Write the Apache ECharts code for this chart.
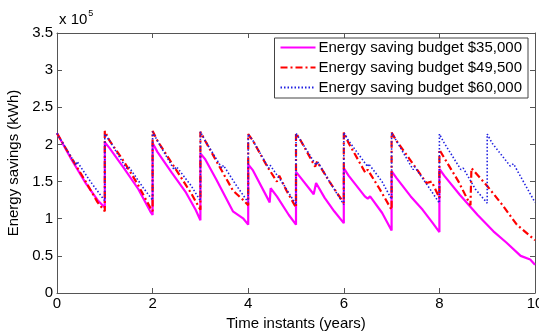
<!DOCTYPE html>
<html>
<head>
<meta charset="utf-8">
<script src="https://cdn.jsdelivr.net/npm/echarts@6/dist/echarts.min.js"></script>
<style>
  html, body { margin: 0; padding: 0; background: #fff; }
  #chart { width: 539px; height: 333px; }
</style>
</head>
<body>
<div id="chart"></div>
<script>
// values in units of 10^5 kWh, x in years
const budget35k = [
  [0, 2.15], [0.3, 1.8], [0.6, 1.48], [0.85, 1.25], [1, 1.15],
  [1, 2.03], [1.1, 1.95], [1.4, 1.68], [1.7, 1.4], [1.95, 1.1], [2, 1.05],
  [2, 2.02], [2.1, 1.9], [2.4, 1.62], [2.7, 1.35], [2.9, 1.12], [3, 0.98],
  [3, 1.88], [3.1, 1.8], [3.33, 1.53], [3.68, 1.1], [3.9, 1.0], [4, 0.92],
  [4, 1.73], [4.1, 1.65], [4.45, 1.22], [4.47, 1.41], [4.6, 1.3], [4.85, 1.05], [5, 0.92],
  [5, 1.63], [5.1, 1.55], [5.37, 1.33], [5.42, 1.48], [5.6, 1.28], [5.8, 1.1], [6, 0.94],
  [6, 1.68], [6.1, 1.58], [6.44, 1.3], [6.5, 1.27], [6.55, 1.3], [6.8, 1.08], [7, 0.84],
  [7, 1.64], [7.1, 1.55], [7.4, 1.3], [7.65, 1.12], [7.85, 0.95], [8, 0.82],
  [8, 1.67], [8.1, 1.58], [8.43, 1.32], [8.8, 1.05], [9.13, 0.83], [9.4, 0.68], [9.7, 0.5], [9.9, 0.45], [10, 0.38]
]
const budget49k = [
  [0, 2.15], [0.3, 1.82], [0.6, 1.5], [0.85, 1.22], [1, 1.1],
  [1, 2.18], [1.1, 2.05], [1.4, 1.77], [1.7, 1.45], [1.95, 1.15], [2, 1.1],
  [2, 2.18], [2.1, 2.05], [2.5, 1.65], [2.8, 1.35], [3, 1.12],
  [3, 2.17], [3.1, 2.05], [3.33, 1.78], [3.68, 1.38], [3.9, 1.25], [4, 1.18],
  [4, 2.14], [4.1, 2.05], [4.4, 1.7], [4.6, 1.5], [4.65, 1.58], [4.8, 1.38], [5, 1.15],
  [5, 2.15], [5.1, 2.05], [5.4, 1.7], [5.44, 1.77], [5.7, 1.5], [6, 1.21],
  [6, 2.16], [6.1, 2.02], [6.45, 1.62], [6.5, 1.66], [6.75, 1.4], [7, 1.12],
  [7, 2.16], [7.1, 2.05], [7.38, 1.8], [7.73, 1.48], [7.84, 1.5], [8, 1.28],
  [8, 1.93], [8.1, 1.82], [8.4, 1.5], [8.65, 1.18], [8.67, 1.68], [9, 1.44], [9.3, 1.2], [9.62, 0.92], [10, 0.71]
]
const budget60k = [
  [0, 2.15], [0.4, 1.72], [0.42, 1.77], [0.7, 1.5], [1, 1.24],
  [1, 2.14], [1.1, 2.05], [1.45, 1.68], [1.5, 1.7], [1.8, 1.42], [2, 1.25],
  [2, 2.17], [2.1, 2.05], [2.45, 1.66], [2.5, 1.7], [2.8, 1.45], [3, 1.24],
  [3, 2.17], [3.1, 2.05], [3.45, 1.68], [3.48, 1.72], [3.75, 1.45], [4, 1.22],
  [4, 2.14], [4.1, 2.05], [4.43, 1.68], [4.46, 1.72], [4.75, 1.45], [5, 1.19],
  [5, 2.15], [5.1, 2.05], [5.42, 1.72], [5.45, 1.77], [5.7, 1.5], [6, 1.19],
  [6, 2.16], [6.1, 2.05], [6.5, 1.7], [6.52, 1.74], [6.8, 1.5], [7, 1.26],
  [7, 2.16], [7.1, 2.05], [7.45, 1.66], [7.48, 1.7], [7.75, 1.45], [8, 1.21],
  [8, 2.14], [8.1, 2.02], [8.45, 1.66], [8.5, 1.68], [8.75, 1.4], [9, 1.21],
  [9, 2.14], [9.1, 2.02], [9.48, 1.71], [9.55, 1.74], [9.8, 1.45], [10, 1.22]
]
const seriesNames = ['Energy saving budget $35,000', 'Energy saving budget $49,500', 'Energy saving budget $60,000']
const yTicks = [0, 0.5, 1, 1.5, 2, 2.5, 3, 3.5]

const font = 'Liberation Sans, Arial, sans-serif'
const chart = echarts.init(document.getElementById('chart'))

const axisCommon = {
  axisLine: { show: true, onZero: false, lineStyle: { color: '#555', width: 1 } },
  axisTick: { show: true, inside: true, length: 5, lineStyle: { color: '#555' } },
  splitLine: { show: false }
}

chart.setOption({
  animation: false,
  textStyle: { fontFamily: font },
  grid: { left: 57, right: 4, top: 33, bottom: 40, containLabel: false, outerBoundsMode: 'none' },
  legend: {
    orient: 'vertical',
    right: 11,
    top: 38,
    itemWidth: 35,
    itemHeight: 16,
    itemGap: 5,
    padding: [2, 6, 3, 5],
    backgroundColor: '#fff',
    borderColor: '#444',
    borderWidth: 1,
    borderRadius: 0,
    itemStyle: { opacity: 0 },
    textStyle: { fontFamily: font, fontSize: 15, color: '#000', padding: [0, 0, 0, -2] },
    data: seriesNames
  },
  xAxis: [
    Object.assign({}, axisCommon, {
      type: 'value', min: 0, max: 10, interval: 2,
      name: 'Time instants (years)', nameLocation: 'middle', nameGap: 22,
      nameTextStyle: { fontFamily: font, fontSize: 15, color: '#000' },
      axisLabel: { fontFamily: font, fontSize: 15, color: '#000', margin: 3 }
    }),
    Object.assign({}, axisCommon, {
      type: 'value', min: 0, max: 10, interval: 2, position: 'top',
      axisLabel: { show: false }
    })
  ],
  yAxis: [
    Object.assign({}, axisCommon, {
      type: 'value', min: 0, max: 3.5, interval: 0.5,
      name: 'Energy savings (kWh)', nameLocation: 'middle', nameGap: 27, nameRotate: 90,
      nameTextStyle: { fontFamily: font, fontSize: 15, color: '#000' },
      axisLabel: {
        fontFamily: font, fontSize: 15, color: '#000', margin: 4,
        formatter: v => yTicks.includes(v) ? String(v) : ''
      }
    }),
    Object.assign({}, axisCommon, {
      type: 'value', min: 0, max: 3.5, interval: 0.5, position: 'right',
      axisLabel: { show: false }
    })
  ],
  graphic: [{
    type: 'text',
    left: 59,
    top: 9,
    style: {
      text: '{b|x 10}{s|5}',
      rich: {
        b: { fontFamily: font, fontSize: 15, fill: '#000', verticalAlign: 'bottom' },
        s: { fontFamily: font, fontSize: 9, fill: '#000', verticalAlign: 'top', padding: [0, 0, 9, 1] }
      }
    }
  }],
  series: [
    {
      name: seriesNames[0], type: 'line', data: budget35k, symbol: 'none',
      lineStyle: { color: '#ff00ff', width: 2.2 }, itemStyle: { color: '#ff00ff' }
    },
    {
      name: seriesNames[1], type: 'line', data: budget49k, symbol: 'none',
      lineStyle: { color: '#ff0000', width: 2.2, type: [7, 3, 2, 3] }, itemStyle: { color: '#ff0000' }
    },
    {
      name: seriesNames[2], type: 'line', data: budget60k, symbol: 'none',
      lineStyle: { color: '#2020e0', width: 1.6, type: [1.5, 2] }, itemStyle: { color: '#2020e0' }
    }
  ]
})
</script>
</body>
</html>
